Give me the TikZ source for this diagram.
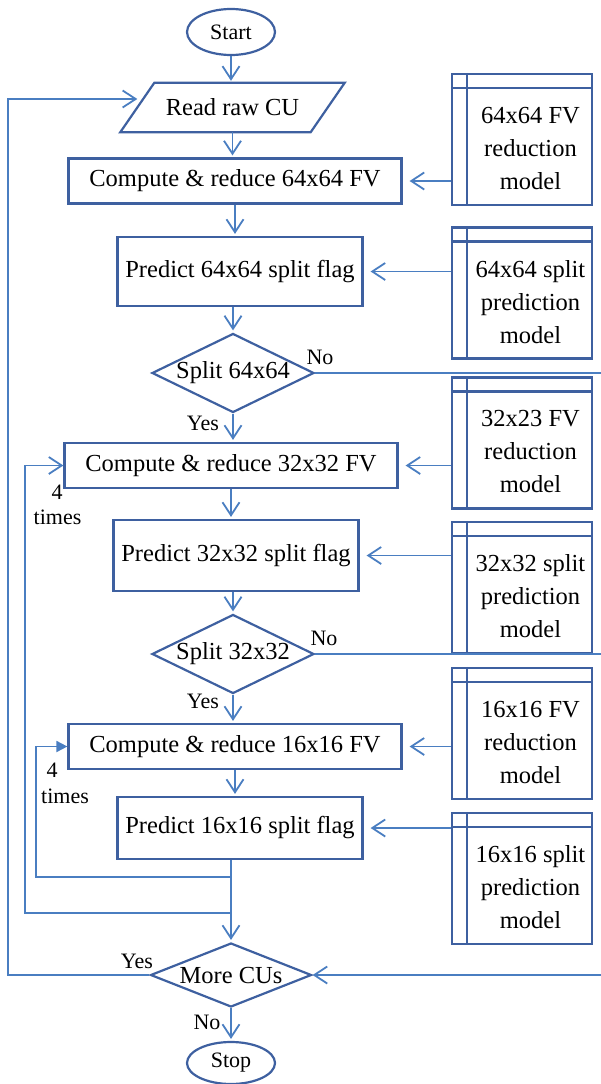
\documentclass[tikz,border=0pt]{standalone}
\usepackage{fontspec}
\setmainfont{Liberation Serif}
\usetikzlibrary{shapes.geometric,arrows.meta,calc}
\definecolor{shp}{RGB}{62,96,160}
\definecolor{cnx}{RGB}{74,126,193}
\newcommand{\modelbox}[3]{%
  \node[modelframe] (#1) at (522,#2) {};
  \draw[shapeline] ([xshift=16pt]#1.north west) -- ([xshift=16pt]#1.south west);
  \draw[shapeline] ([yshift=-15pt]#1.north west) -- ([yshift=-15pt]#1.north east);
  \node[align=center] (#1t) at ($(#1.center)+(8.5,9)$) {#3};
}
\begin{document}
\begin{tikzpicture}[x=1pt,y=-1pt,
  every node/.style={font=\fontsize{24.5}{33}\selectfont, inner sep=0pt},
  shapeline/.style={draw=shp, line width=2.2pt},
  procbox/.style={shapeline, rectangle, minimum height=45pt},
  decision/.style={shapeline, diamond, aspect=2, minimum width=162pt, minimum height=79pt},
  term/.style={shapeline, ellipse, minimum width=88pt, minimum height=46pt, font=\fontsize{22}{26}\selectfont},
  modelframe/.style={shapeline, rectangle, minimum width=140pt, minimum height=131pt},
  lbl/.style={font=\fontsize{22}{26}\selectfont},
  conn/.style={draw=cnx, line width=1.8pt},
  arr/.style={conn, -{Straight Barb[length=13pt,width=17pt]}},
  modelarr/.style={arr, shorten >=7pt},
  mainarr/.style={arr, shorten >=2pt},
]
\useasboundingbox (0,0) rectangle (601,1084);

% main column
\node[term] (start) at (231,32) {Start};
\node[minimum width=190pt, minimum height=49pt] (read) at (232.5,107.5) {Read raw CU};
\draw[shapeline] ([xshift=-17pt]read.south west) -- ([xshift=17pt]read.north west)
  -- ([xshift=17pt]read.north east) -- ([xshift=-17pt]read.south east) -- cycle;
\node[procbox, minimum width=333pt] (c64) at (235,181) {Compute \& reduce 64x64 FV};
\node[procbox, minimum width=245pt, minimum height=69pt] (p64) at (240,271.5) {Predict 64x64 split flag};
\node[decision] (s64) at (233,373) {Split 64x64};
\node[procbox, minimum width=333pt] (c32) at (231,465.5) {Compute \& reduce 32x32 FV};
\node[procbox, minimum width=245pt, minimum height=71pt] (p32) at (236,555.5) {Predict 32x32 split flag};
\node[decision] (s32) at (233,654) {Split 32x32};
\node[procbox, minimum width=333pt] (c16) at (235,746.5) {Compute \& reduce 16x16 FV};
\node[procbox, minimum width=245pt, minimum height=62pt] (p16) at (240,828) {Predict 16x16 split flag};
\node[decision, aspect=2.5, minimum width=161pt, minimum height=64pt] (more) at (231,975) {More CUs};
\node[term, minimum height=42pt] (stop) at (231,1063) {Stop};

% model boxes
\modelbox{m1}{139.5}{64x64 FV\\reduction\\model}
\modelbox{m2}{293}{64x64 split\\prediction\\model}
\modelbox{m3}{443}{32x23 FV\\reduction\\model}
\modelbox{m4}{587.5}{32x32 split\\prediction\\model}
\modelbox{m5}{733.5}{16x16 FV\\reduction\\model}
\modelbox{m6}{878.5}{16x16 split\\prediction\\model}

% coordinates for free ends
\coordinate (redge) at (601,0);
\coordinate (lp1) at (25,913);
\coordinate (lp2) at (36,877);
\coordinate (lp3) at (8,975);

% main flow arrows
\draw[mainarr] (start.south) -- (start.south |- read.north);
\draw[mainarr] (read.south) -- (read.south |- c64.north);
\draw[mainarr] (c64.south) -- (c64.south |- p64.north);
\draw[mainarr] (s64.north |- p64.south) -- (s64.north);
\draw[mainarr] (s64.south) -- (s64.south |- c32.north);
\draw[mainarr] (c32.south) -- (c32.south |- p32.north);
\draw[mainarr] (s32.north |- p32.south) -- (s32.north);
\draw[mainarr] (s32.south) -- (s32.south |- c16.north);
\draw[mainarr] (c16.south) -- (c16.south |- p16.north);
\draw[mainarr] (more.north |- p16.south) -- (more.north);
\draw[mainarr] (more.south) -- (more.south |- stop.north);

% model arrows
\draw[modelarr] (m1.west |- c64.east) -- (c64.east);
\draw[modelarr] (m2.west |- p64.east) -- (p64.east);
\draw[modelarr] (m3.west |- c32.east) -- (c32.east);
\draw[modelarr] (m4.west |- p32.east) -- (p32.east);
\draw[modelarr] (m5.west |- c16.east) -- (c16.east);
\draw[modelarr] (m6.west |- p16.east) -- (p16.east);

% loops
\draw[conn, -{Triangle[length=11pt,width=11pt]}] (more.north |- lp2) -- (lp2) |- (c16.west);
\draw[arr] (more.north |- lp1) -- (lp1) |- (c32.west);
\draw[arr] (more.west) -- (lp3) |- ([yshift=8.5pt]read.west);

% "No" branches to the right edge
\draw[conn] (s64.east) -- (s64.east -| redge);
\draw[conn] (s32.east) -- (s32.east -| redge);
\draw[arr] (more.east -| redge) -- (more.east);

% labels
\node[lbl] (no1) at (320,357) {No};
\node[lbl] (yes1) at (203,423) {Yes};
\node[lbl] (four1) at (57,492) {4};
\node[lbl] (times1) at (57.5,517) {times};
\node[lbl] (no2) at (324,638) {No};
\node[lbl] (yes2) at (203,701) {Yes};
\node[lbl] (four2) at (52,770) {4};
\node[lbl] (times2) at (65,796) {times};
\node[lbl] (yes3) at (137,961) {Yes};
\node[lbl] (no3) at (207,1022) {No};
\end{tikzpicture}
\end{document}
